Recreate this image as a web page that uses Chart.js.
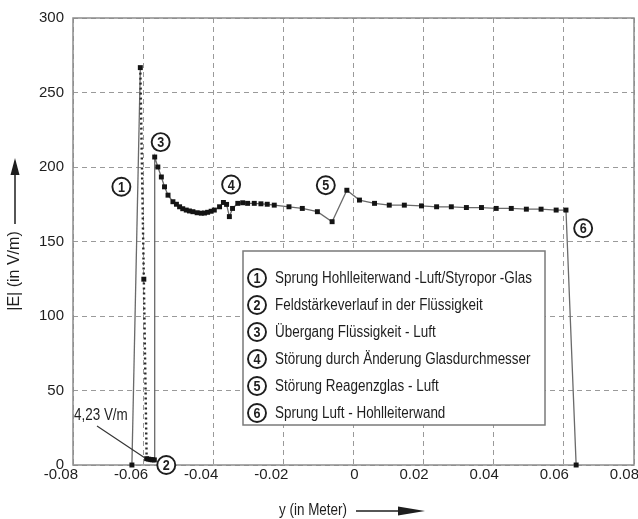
<!DOCTYPE html>
<html>
<head>
<meta charset="utf-8">
<script src="https://cdn.jsdelivr.net/npm/chart.js@4.4.1/dist/chart.umd.min.js"></script>
<style>
  html, body { margin: 0; padding: 0; background: #fff; overflow: hidden; }
  canvas { display: block; }
</style>
</head>
<body>
<canvas id="feld" width="638" height="519"></canvas>
<script>
// Measured path across the waveguide: position y (m) and field strength |E| (V/m)
const positionY = [
  -0.0632, -0.0608, -0.0598, -0.0590, -0.0584, -0.0578, -0.0573, -0.0568,
  -0.0567, -0.0558, -0.0548, -0.0539, -0.0529, -0.0515, -0.0505, -0.0496,
  -0.0487, -0.0477, -0.0468, -0.0458, -0.0446, -0.0434, -0.0425, -0.0416,
  -0.0406, -0.0397, -0.0382, -0.0371, -0.0362, -0.0354, -0.0345, -0.0330,
  -0.0316, -0.0302, -0.0283, -0.0264, -0.0246, -0.0226, -0.0184, -0.0146,
  -0.0103, -0.0061, -0.0019, 0.0017, 0.0060, 0.0102, 0.0145, 0.0194,
  0.0237, 0.0279, 0.0322, 0.0365, 0.0407, 0.0450, 0.0493, 0.0535,
  0.0578, 0.0606, 0.0635
];
const fieldE = [
  0, 266.7, 124.7, 4.23, 3.9, 3.6, 3.5, 3.4,
  206.7, 200, 193.3, 186.7, 181.1, 176.7, 175.0, 173.3,
  172.0, 171.1, 170.5, 170.0, 169.3, 169.0, 169.1, 169.6,
  170.3, 171.1, 173.3, 176.2, 174.9, 166.7, 172.2, 175.6,
  176.0, 175.6, 175.6, 175.3, 175.0, 174.4, 173.3, 172.2,
  170.0, 163.3, 184.4, 177.8, 175.6, 174.4, 174.4, 173.9,
  173.3, 173.3, 172.8, 172.8, 172.2, 172.2, 171.7, 171.7,
  171.1, 171.1, 0
];
// segments (by start position) that run through the liquid, drawn dotted
const dottedFrom = [-0.0608, -0.0598];

const xTicks = [-0.08, -0.06, -0.04, -0.02, 0, 0.02, 0.04, 0.06, 0.08];
const xTickLabels = ['-0.08', '-0.06', '-0.04', '-0.02', '0', '0.02', '0.04', '0.06', '0.08'];
const yTicks = [0, 50, 100, 150, 200, 250, 300];
const yTickLabels = ['0', '50', '100', '150', '200', '250', '300'];

const legendTexts = [
  'Sprung Hohlleiterwand -Luft/Styropor -Glas',
  'Feldstärkeverlauf in der Flüssigkeit',
  'Übergang Flüssigkeit - Luft',
  'Störung durch Änderung Glasdurchmesser',
  'Störung Reagenzglas - Luft',
  'Sprung Luft - Hohlleiterwand'
];
const noteText = '4,23 V/m';
const noteValue = { x: -0.0590, y: 4.23 };

// where the numbered callouts sit, in axis units
const calloutPlaces = [
  { n: '1', x: -0.0662, y: 186.7 },
  { n: '2', x: -0.0534, y: 0 },
  { n: '3', x: -0.0550, y: 216.7 },
  { n: '4', x: -0.0349, y: 188.3 },
  { n: '5', x: -0.0079, y: 187.8 },
  { n: '6', x: 0.0655, y: 158.9 }
];

const FONT = '"Liberation Sans", Arial, sans-serif';
const INK = '#1e1e1e';
const SQUEEZE = 0.84;   // narrow lettering for the annotation texts

function narrowText(ctx, text, x, y, align) {
  ctx.save();
  ctx.translate(x, y);
  ctx.scale(SQUEEZE, 1);
  ctx.textAlign = align;
  ctx.textBaseline = 'middle';
  ctx.fillText(text, 0, 0);
  ctx.restore();
}

function circledNumber(ctx, cx, cy, n) {
  ctx.save();
  ctx.fillStyle = '#fff';
  ctx.strokeStyle = INK;
  ctx.lineWidth = 1.9;
  ctx.beginPath();
  ctx.arc(cx, cy, 9, 0, Math.PI * 2);
  ctx.fill();
  ctx.stroke();
  ctx.fillStyle = INK;
  ctx.font = 'bold 15px ' + FONT;
  narrowText(ctx, n, cx, cy + 1, 'center');
  ctx.restore();
}

const frame = {
  id: 'frame',
  beforeDatasetsDraw(chart) {
    const { ctx, chartArea: a } = chart;
    ctx.save();
    ctx.strokeStyle = '#8c8c8c';
    ctx.lineWidth = 1.5;
    ctx.strokeRect(a.left, a.top, a.right - a.left, a.bottom - a.top);
    ctx.restore();
  }
};

const decor = {
  id: 'decor',
  afterDatasetsDraw(chart) {
    const { ctx, chartArea: a, scales: { x, y } } = chart;
    ctx.save();

    // explanation box
    const bx = a.left + 170, by = a.top + 233, bw = 302, bh = 174;
    ctx.fillStyle = '#fff';
    ctx.fillRect(bx, by, bw, bh);
    ctx.strokeStyle = '#7a7a7a';
    ctx.lineWidth = 1.5;
    ctx.strokeRect(bx, by, bw, bh);
    legendTexts.forEach((t, i) => {
      const ry = by + 27 + i * 27;
      circledNumber(ctx, bx + 14, ry, String(i + 1));
      ctx.fillStyle = INK;
      ctx.font = '16px ' + FONT;
      narrowText(ctx, t, bx + 32, ry + 1, 'left');
    });

    // numbered callouts on the curve
    calloutPlaces.forEach(c => {
      circledNumber(ctx, x.getPixelForValue(c.x), y.getPixelForValue(c.y), c.n);
    });

    // value note for the liquid level
    const px = x.getPixelForValue(noteValue.x), py = y.getPixelForValue(noteValue.y);
    ctx.strokeStyle = '#333';
    ctx.lineWidth = 1.2;
    ctx.beginPath();
    ctx.moveTo(a.left + 24, a.top + 408);
    ctx.lineTo(px - 2, py - 1);
    ctx.stroke();
    ctx.fillStyle = INK;
    ctx.font = '16px ' + FONT;
    narrowText(ctx, noteText, a.left + 1, a.top + 398, 'left');

    // y axis title with arrow
    ctx.save();
    ctx.translate(15, 271);
    ctx.rotate(-Math.PI / 2);
    ctx.font = '16px ' + FONT;
    ctx.textAlign = 'center';
    ctx.textBaseline = 'middle';
    ctx.fillText('|E| (in V/m)', 0, 0);
    ctx.restore();
    ctx.strokeStyle = INK;
    ctx.lineWidth = 1.5;
    ctx.beginPath();
    ctx.moveTo(15, 224);
    ctx.lineTo(15, 172);
    ctx.stroke();
    ctx.beginPath();
    ctx.moveTo(15, 158);
    ctx.lineTo(10.5, 175);
    ctx.lineTo(19.5, 175);
    ctx.closePath();
    ctx.fill();

    // x axis title with arrow
    ctx.font = '16px ' + FONT;
    narrowText(ctx, 'y (in Meter)', 313, 511, 'center');
    ctx.beginPath();
    ctx.moveTo(356, 511);
    ctx.lineTo(400, 511);
    ctx.stroke();
    ctx.beginPath();
    ctx.moveTo(425, 511);
    ctx.lineTo(398, 506.5);
    ctx.lineTo(398, 515.5);
    ctx.closePath();
    ctx.fill();

    ctx.restore();
  }
};

const inLiquid = c => dottedFrom.includes(c.p0.parsed.x);

new Chart(document.getElementById('feld'), {
  type: 'scatter',
  data: {
    datasets: [{
      data: positionY.map((v, i) => ({ x: v, y: fieldE[i] })),
      showLine: true,
      borderColor: '#6a6a6a',
      borderWidth: 1.3,
      pointStyle: 'rect',
      pointRadius: 3.5,
      pointBackgroundColor: '#141414',
      pointBorderColor: '#141414',
      pointBorderWidth: 0,
      clip: false,
      segment: {
        borderDash: c => inLiquid(c) ? [2, 3] : undefined,
        borderColor: c => inLiquid(c) ? '#2a2a2a' : undefined,
        borderWidth: c => inLiquid(c) ? 2.4 : undefined
      }
    }]
  },
  options: {
    responsive: false,
    animation: false,
    devicePixelRatio: 1,
    layout: { padding: { top: 15, right: 2, left: 0, bottom: 0 } },
    plugins: { legend: { display: false }, tooltip: { enabled: false } },
    scales: {
      x: {
        type: 'linear',
        min: -0.08,
        max: 0.08,
        afterBuildTicks: s => { s.ticks = xTicks.map(v => ({ value: v })); },
        afterFit: s => { s.height = 54; s.paddingLeft = 0; s.paddingRight = 0; },
        grid: { color: '#9a9a9a', lineWidth: 1, drawTicks: false },
        border: { display: false, dash: [5, 4] },
        ticks: {
          callback: (v, i) => xTickLabels[i],
          align: 'end',
          labelOffset: 5,
          padding: 1,
          maxRotation: 0,
          autoSkip: false,
          color: INK,
          font: { family: FONT, size: 15 }
        }
      },
      y: {
        type: 'linear',
        min: 0,
        max: 300,
        afterBuildTicks: s => { s.ticks = yTicks.map(v => ({ value: v })); },
        afterFit: s => { s.width = 73; },
        grid: { color: '#9a9a9a', lineWidth: 1, drawTicks: false },
        border: { display: false, dash: [5, 4] },
        ticks: {
          callback: (v, i) => yTickLabels[i],
          padding: 9,
          autoSkip: false,
          color: INK,
          font: { family: FONT, size: 15 }
        }
      }
    }
  },
  plugins: [frame, decor]
});
</script>
</body>
</html>
